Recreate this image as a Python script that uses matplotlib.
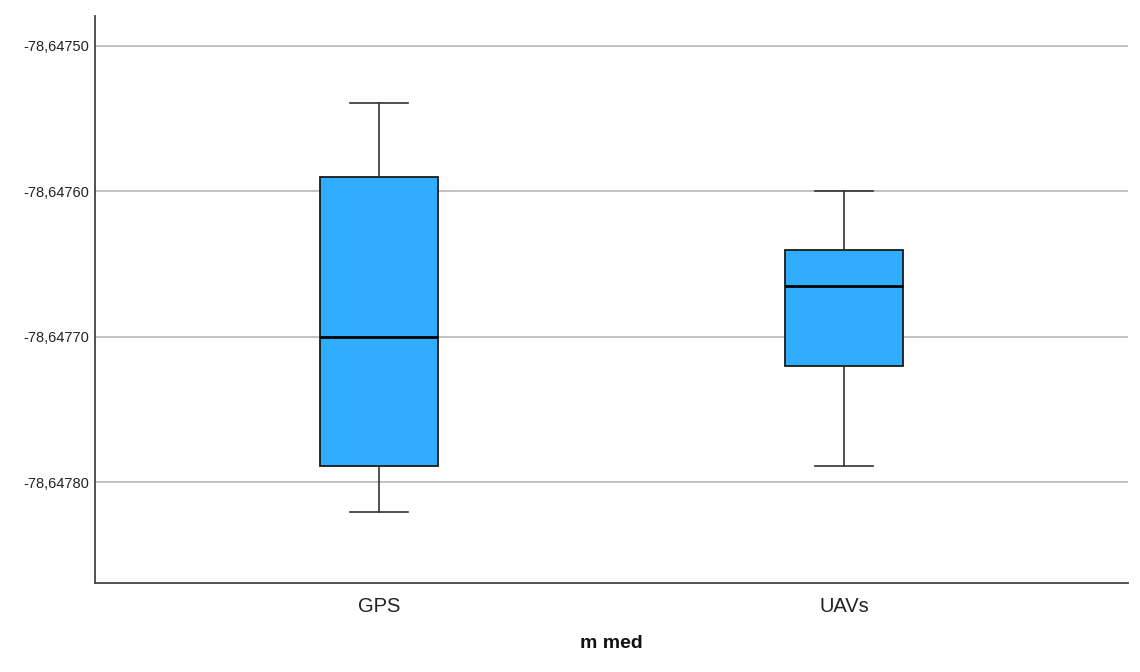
import matplotlib
matplotlib.use("Agg")
import matplotlib.pyplot as plt
from matplotlib.ticker import FuncFormatter, FixedLocator

plt.rcParams['font.family'] = ['Liberation Sans', 'DejaVu Sans']

categories = ["GPS", "UAVs"]
whisker_low = [-78.647820, -78.647789]
q1 = [-78.647789, -78.647720]
median = [-78.647700, -78.647665]
q3 = [-78.647590, -78.647640]
whisker_high = [-78.647539, -78.647600]
yticks = [-78.64780, -78.64770, -78.64760, -78.64750]

fig = plt.figure(figsize=(11.4, 6.72), dpi=100)
ax = fig.add_axes([95/1140, 1 - 583/672, (1128 - 95)/1140, (583 - 16)/672])

stats = []
for i, c in enumerate(categories):
    stats.append(dict(label=c, whislo=whisker_low[i], q1=q1[i], med=median[i],
                      q3=q3[i], whishi=whisker_high[i], fliers=[]))

ax.bxp(stats, positions=range(len(categories)), widths=0.252, patch_artist=True,
       showfliers=False,
       boxprops=dict(facecolor='#31adff', edgecolor='#1a1a1a', linewidth=1.3),
       medianprops=dict(color='#000000', linewidth=2.0),
       whiskerprops=dict(color='#333333', linewidth=1.2),
       capprops=dict(color='#333333', linewidth=1.2),
       capwidths=0.126, zorder=3)

ax.set_xlim(-0.611, 1.611)
ax.set_ylim(-78.6478691, -78.6474794)
ax.yaxis.set_major_locator(FixedLocator(yticks))
ax.yaxis.set_major_formatter(FuncFormatter(lambda v, p: f"{v:.5f}".replace('.', ',')))
ax.grid(axis='y', color='#b8b8b8', linewidth=1.2, zorder=0)
ax.set_axisbelow(True)

for s in ['top', 'right']:
    ax.spines[s].set_visible(False)
for s in ['left', 'bottom']:
    ax.spines[s].set_color('#444444')
    ax.spines[s].set_linewidth(1.3)

ax.tick_params(axis='y', length=0, labelsize=10.5, pad=4.5, labelcolor='#222222')
ax.tick_params(axis='x', length=0, labelsize=14.5, pad=10, labelcolor='#222222')
ax.set_xlabel('m med', fontsize=14, fontweight='bold', labelpad=14, color='#111111')

fig.savefig('out.png', dpi=100, facecolor='white')
